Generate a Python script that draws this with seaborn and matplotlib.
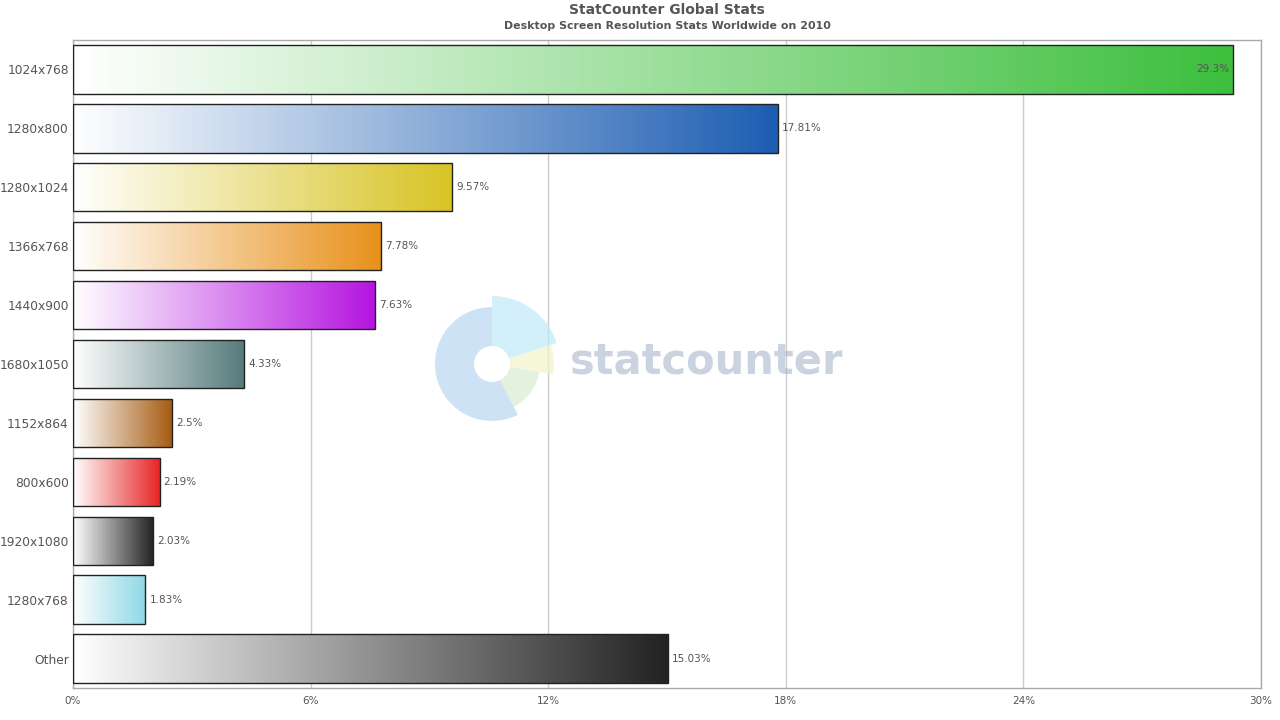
import matplotlib
matplotlib.use("Agg")
import matplotlib.pyplot as plt
import matplotlib.colors as mcolors
from matplotlib.patches import Wedge, Circle
import numpy as np
import pandas as pd
import seaborn as sns

resolutions = ["1024x768", "1280x800", "1280x1024", "1366x768", "1440x900", "1680x1050",
               "1152x864", "800x600", "1920x1080", "1280x768", "Other"]
shares = [29.3, 17.81, 9.57, 7.78, 7.63, 4.33, 2.5, 2.19, 2.03, 1.83, 15.03]
end_colors = ["#3dbf3d", "#1c5db2", "#d8c424", "#e8901a", "#b414e0", "#557a7c",
              "#a65c14", "#e82626", "#222222", "#8ed8e6", "#222222"]

df = pd.DataFrame({"resolution": resolutions, "share": shares})

sns.set_theme(style="white")
plt.rcParams["font.family"] = ["DejaVu Sans"]

fig = plt.figure(figsize=(12.8, 7.2), dpi=100)
ax = fig.add_axes([73 / 1280, 1 - 688 / 720, (1261 - 73) / 1280, (688 - 40) / 720])

sns.barplot(data=df, x="share", y="resolution", ax=ax, color="white",
            width=0.82, edgecolor="#222222", linewidth=1.0, zorder=3)

# gradient fill inside each bar
grad = np.linspace(0, 1, 256).reshape(1, -1)
for patch, col in zip(ax.patches, end_colors):
    patch.set_facecolor("none")
    cmap = mcolors.LinearSegmentedColormap.from_list("g", ["#ffffff", col])
    x0, y0 = patch.get_x(), patch.get_y()
    w, h = patch.get_width(), patch.get_height()
    im = ax.imshow(grad, cmap=cmap, aspect="auto", extent=[x0, x0 + w, y0 + h, y0],
                   zorder=2.5, interpolation="bicubic")
    im.set_clip_path(patch)

ax.set_xlim(0, 30)
ax.set_ylim(len(resolutions) - 0.5, -0.5)

for i, v in enumerate(shares):
    label = f"{v:g}%"
    if i == 0:
        ax.text(v - 0.1, i, label, ha="right", va="center", fontsize=7.5, color="#555555", zorder=5)
    else:
        ax.text(v + 0.1, i, label, ha="left", va="center", fontsize=7.5, color="#555555", zorder=5)

ax.set_xticks([0, 6, 12, 18, 24, 30])
ax.set_xticklabels(["0%", "6%", "12%", "18%", "24%", "30%"], fontsize=7.5, color="#555555")
ax.tick_params(axis="y", labelsize=8.8, labelcolor="#555555", length=0, pad=3)
ax.tick_params(axis="x", length=0, pad=6)
ax.grid(axis="x", color="#cccccc", linewidth=1, zorder=0)
ax.set_xlabel("")
ax.set_ylabel("")
for s in ax.spines.values():
    s.set_color("#aaaaaa")
    s.set_linewidth(1)

tx = 667 / 1280
fig.text(tx, 1 - 10 / 720, "StatCounter Global Stats", ha="center", va="center",
         fontsize=10, fontweight="bold", color="#555555")
fig.text(tx, 1 - 26 / 720, "Desktop Screen Resolution Stats Worldwide on 2010", ha="center",
         va="center", fontsize=7.9, fontweight="bold", color="#555555")

# watermark logo (pixel coords, y up)
wm = fig.add_axes([0, 0, 1, 1], zorder=10)
wm.set_xlim(0, 1280)
wm.set_ylim(0, 720)
wm.axis("off")
cx, cy = 492, 720 - 364
wm.add_patch(Wedge((cx, cy), 57, 90, 297, facecolor="#b9d7f0", alpha=0.7, edgecolor="none"))
wm.add_patch(Wedge((cx, cy), 68, 18, 90, facecolor="#bfe9f8", alpha=0.7, edgecolor="none"))
wm.add_patch(Wedge((cx, cy), 62, -10, 18, facecolor="#f3f4c8", alpha=0.7, edgecolor="none"))
wm.add_patch(Wedge((cx, cy), 48, -63, -10, facecolor="#d8ecd0", alpha=0.7, edgecolor="none"))
wm.add_patch(Circle((cx, cy), 18, facecolor="white", edgecolor="none"))
wm.text(570, 720 - 362, "statcounter", fontsize=30, fontweight="bold", color="#aab6cc",
        alpha=0.6, ha="left", va="center")

fig.savefig("out.png", dpi=100)
